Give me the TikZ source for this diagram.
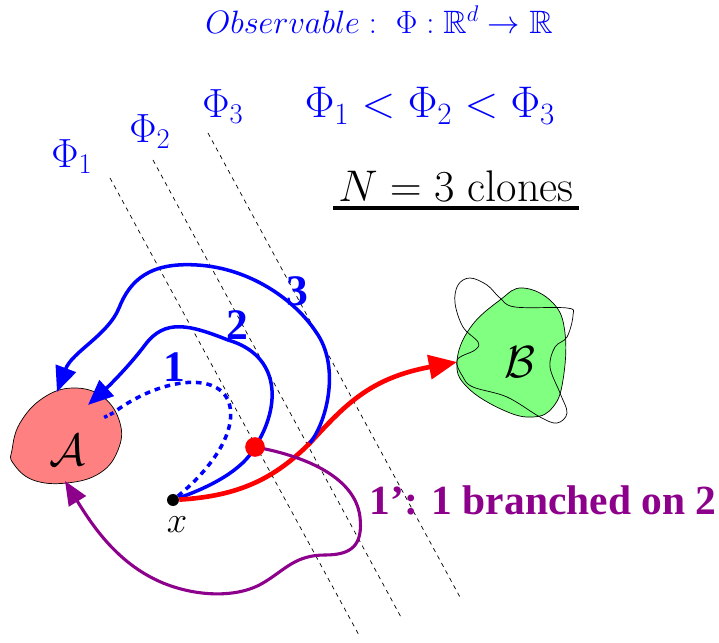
\RequirePackage{fix-cm}
\documentclass[tikz,border=0pt]{standalone}
\usepackage{amsmath,amssymb}
\usepackage{fontspec}
\newfontfamily\timesfont{Liberation Serif}
\usepackage{xcolor}
\usetikzlibrary{arrows.meta}

\definecolor{purp}{RGB}{140,0,140}
\definecolor{setA}{RGB}{255,128,128}
\definecolor{setB}{RGB}{128,255,128}

\begin{document}
\begin{tikzpicture}[x=0.025cm, y=-0.025cm,
  level/.style={black, line width=0.5pt, dash pattern=on 3pt off 3pt},
  clone/.style={blue, line width=2.5pt, -{Triangle[length=18pt,width=15pt]}},
  phi/.style={blue, font=\fontsize{29}{34}\selectfont},
  num/.style={blue, font=\timesfont\bfseries\fontsize{31}{34}\selectfont},
  dot/.style={circle, fill, inner sep=0pt}]
  \useasboundingbox (0,0) rectangle (719,643);

  % texts on top
  \node[blue, font=\fontsize{23}{28}\selectfont] (obs) at (379,20)
    {$Observable:\ \Phi:\mathbb{R}^d\rightarrow\mathbb{R}$};
  \node[blue, font=\fontsize{31.5}{36}\selectfont] (order) at (430,106) {$\Phi_1<\Phi_2<\Phi_3$};
  \node[font=\fontsize{31.5}{36}\selectfont] (nc) at (456,186) {$N=3$ clones};
  \draw[line width=2.8pt] ([yshift=-5pt]nc.base west) -- ([yshift=-5pt]nc.base east);

  % levels of the observable
  \node[phi] (phi1) at (72,157) {$\Phi_1$};
  \node[phi] (phi2) at (150,132) {$\Phi_2$};
  \node[phi] (phi3) at (223,107) {$\Phi_3$};
  \draw[level] (110,178) -- (360,637);
  \draw[level] (153,160) -- (402,619);
  \draw[level] (208,133) -- (461,599);

  % the sets A and B
  \filldraw[fill=setA, draw=black, line width=0.5pt] plot[smooth cycle, tension=0.7]
    coordinates {(12,450) (20,423) (43,398) (73,388) (103,397) (120,423)
                 (118,450) (100,473) (67,483) (33,480) (13,463)};
  \node[font=\fontsize{32}{36}\selectfont] (A) at (67,450) {$\mathcal{A}$};
  \filldraw[fill=setB, draw=black, line width=0.5pt] plot[smooth cycle, tension=0.7]
    coordinates {(457,362) (470,328) (500,300) (523,288) (553,303) (565,333)
                 (563,380) (553,407) (533,417) (503,410) (467,387)};
  \draw[black, line width=0.5pt] plot[smooth cycle, tension=0.6]
    coordinates {(457,360) (475,350) (478,342) (463,327) (455,303) (458,285)
                 (470,278) (487,285) (500,298) (515,307) (567,308) (573,315)
                 (567,337) (555,347) (550,367) (560,393) (567,413) (557,423)
                 (540,417) (507,397) (473,387) (463,377)};
  \node[font=\fontsize{32}{36}\selectfont] (B) at (520,362) {$\mathcal{B}$};

  % start point and ends of the trajectories
  \node[dot, minimum size=8.5pt] (x) at (173,500) {};
  \node[font=\fontsize{26}{30}\selectfont] (xl) at (177,525) {$x$};
  \coordinate (br) at (255,447);
  \coordinate (b3) at (310,443);
  \coordinate (p1e) at (113,413);
  \coordinate (p1d) at (103,418);
  \coordinate (tip2) at (88,405);
  \coordinate (tip3) at (57,392);
  \coordinate (tipB) at (457,362);
  \coordinate (tipP) at (65,481);

  % clone 1
  \draw[blue, line width=2.5pt, dash pattern=on 4pt off 3.5pt]
    (x) .. controls (210,470) and (240,430) .. (228,400)
        .. controls (215,372) and (160,378) .. (p1e);
  \draw[blue, line width=2.5pt, dotted] (p1e) -- (p1d);
  % clone 2
  \draw[clone] (x) .. controls (210,487) and (243,470) .. (br)
    .. controls (282,405) and (280,355) .. (228,340)
    .. controls (190,325) and (165,318) .. (145,345)
    .. controls (130,365) and (110,385) .. (tip2);
  % reactive trajectory
  \draw[red, line width=3.3pt, -{Triangle[length=20pt,width=17pt]}]
    (x) .. controls (240,496) and (275,478) .. (b3)
        .. controls (345,405) and (370,378) .. (tipB);
  % clone 3
  \draw[clone] (b3) .. controls (328,420) and (340,365) .. (316,332)
    .. controls (295,300) and (250,268) .. (197,265)
    .. controls (150,262) and (130,280) .. (119,308)
    .. controls (108,335) and (72,352) .. (tip3);
  % clone 1 branched on 2
  \draw[purp, line width=2.2pt, -{Triangle[length=17pt,width=14pt]}]
    (br) .. controls (300,455) and (355,475) .. (360,517)
         .. controls (363,545) and (352,555) .. (325,555)
         .. controls (295,555) and (285,570) .. (263,583)
         .. controls (240,597) and (200,598) .. (163,583)
         .. controls (120,565) and (95,530) .. (tipP);
  \node[dot, fill=red, minimum size=14pt] (brdot) at (br) {};

  \node[num] (n1) at (174,367) {1};
  \node[num] (n2) at (237,325) {2};
  \node[num] (n3) at (297,291) {3};
  \node[purp, font=\timesfont\bfseries\fontsize{29.5}{34}\selectfont] (lab) at (543,500)
    {1’: 1 branched on 2};
\end{tikzpicture}
\end{document}
